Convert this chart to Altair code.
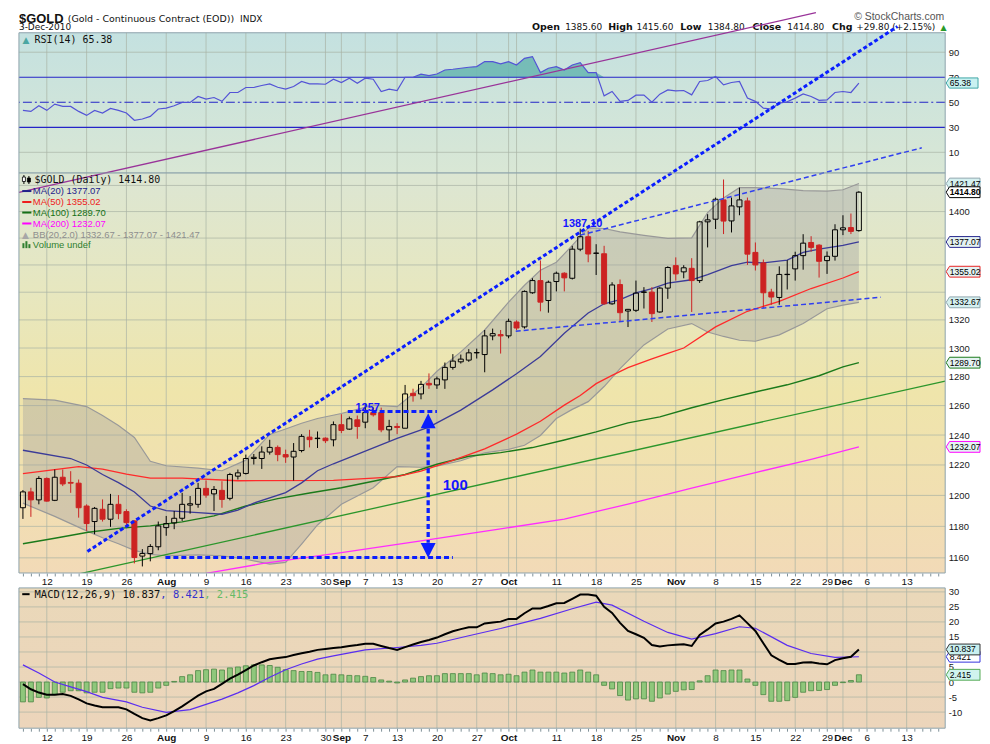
import altair as alt
import pandas as pd

# ---------------- values ----------------
OPEN = [1192.0, 1202.3, 1197.1, 1211.1, 1196.8, 1211.9, 1208.5, 1208.0, 1193.1, 1183.1,
        1191.0, 1184.6, 1194.2, 1189.5, 1183.5, 1161.1, 1162.7, 1167.0, 1179.2, 1182.2,
        1185.2, 1193.7, 1194.2, 1204.6, 1201.0, 1203.3, 1198.1, 1212.6, 1214.4, 1224.3,
        1224.3, 1228.6, 1231.7, 1226.9, 1225.3, 1229.6, 1238.6, 1237.6, 1237.9, 1236.8,
        1247.0, 1244.0, 1250.3, 1248.7, 1255.2, 1255.2, 1243.5, 1245.8, 1244.6, 1268.4,
        1268.0, 1275.3, 1274.2, 1277.7, 1286.4, 1290.3, 1291.5, 1296.6, 1295.4, 1308.6,
        1309.5, 1308.6, 1318.5, 1315.0, 1339.6, 1348.5, 1334.0, 1347.8, 1353.9, 1350.2,
        1371.7, 1381.0, 1368.6, 1368.3, 1331.6, 1345.6, 1326.4, 1326.9, 1339.9, 1340.1,
        1325.7, 1343.0, 1359.5, 1354.9, 1357.5, 1348.5, 1392.2, 1394.2, 1408.9, 1392.9,
        1403.6, 1408.1, 1369.3, 1361.5, 1340.1, 1336.2, 1352.9, 1357.1, 1366.9, 1376.7,
        1374.7, 1363.2, 1366.4, 1386.2, 1387.9, 1385.6]
HIGH = [1203.5, 1205.0, 1212.6, 1211.8, 1217.0, 1217.0, 1215.9, 1210.4, 1194.2, 1192.5,
        1197.4, 1201.0, 1200.2, 1191.0, 1183.9, 1165.5, 1168.7, 1183.1, 1186.7, 1189.9,
        1201.7, 1199.6, 1208.2, 1209.8, 1206.1, 1209.3, 1214.8, 1217.0, 1226.9, 1227.3,
        1232.4, 1236.8, 1233.0, 1230.2, 1234.6, 1240.6, 1243.5, 1242.4, 1238.4, 1249.2,
        1254.1, 1252.5, 1253.2, 1261.5, 1258.6, 1258.6, 1250.3, 1248.0, 1274.2, 1271.6,
        1277.0, 1282.2, 1280.0, 1289.8, 1295.7, 1295.4, 1299.2, 1299.6, 1312.8, 1313.8,
        1312.8, 1320.9, 1319.7, 1341.3, 1350.2, 1363.3, 1348.5, 1355.1, 1354.6, 1374.2,
        1387.1, 1385.4, 1375.4, 1374.2, 1347.3, 1349.3, 1327.9, 1348.5, 1343.7, 1343.7,
        1343.7, 1359.0, 1365.6, 1359.8, 1365.0, 1393.0, 1398.0, 1410.7, 1424.6, 1410.7,
        1418.3, 1410.7, 1376.7, 1364.0, 1342.5, 1359.0, 1363.5, 1369.8, 1382.9, 1381.4,
        1375.4, 1370.0, 1390.4, 1397.2, 1398.5, 1415.6]
LOW = [1184.8, 1186.1, 1194.2, 1195.9, 1196.3, 1206.1, 1201.7, 1185.6, 1177.1, 1175.0,
       1183.1, 1179.7, 1184.6, 1179.2, 1156.5, 1154.6, 1157.8, 1164.8, 1174.0, 1178.2,
       1183.5, 1188.2, 1192.0, 1198.5, 1189.9, 1192.0, 1196.8, 1210.4, 1213.7, 1220.3,
       1217.4, 1226.9, 1222.5, 1221.4, 1209.8, 1228.4, 1231.7, 1231.3, 1234.6, 1232.4,
       1241.3, 1243.5, 1237.5, 1244.6, 1252.5, 1241.9, 1236.2, 1240.6, 1244.6, 1262.7,
       1264.3, 1271.5, 1271.5, 1271.5, 1284.8, 1289.1, 1290.3, 1292.6, 1283.0, 1305.5,
       1296.1, 1306.9, 1312.6, 1313.8, 1338.9, 1326.2, 1325.2, 1340.6, 1340.6, 1349.3,
       1370.2, 1362.0, 1352.6, 1330.9, 1330.9, 1318.5, 1314.9, 1325.7, 1328.2, 1318.5,
       1325.2, 1335.2, 1348.5, 1350.2, 1325.7, 1346.8, 1373.0, 1386.8, 1383.0, 1384.2,
       1397.2, 1360.0, 1355.9, 1328.6, 1330.9, 1330.9, 1342.0, 1348.5, 1356.5, 1369.8,
       1350.7, 1353.4, 1363.2, 1382.2, 1383.0, 1384.8]
CLOSE = [1202.3, 1197.1, 1211.1, 1196.3, 1211.9, 1207.5, 1208.0, 1192.0, 1181.8, 1191.6,
         1184.6, 1194.2, 1188.2, 1182.4, 1160.2, 1162.7, 1167.2, 1180.3, 1181.8, 1185.2,
         1194.2, 1194.6, 1204.6, 1200.2, 1203.9, 1197.4, 1213.7, 1214.8, 1224.3, 1225.1,
         1228.6, 1231.7, 1226.9, 1225.3, 1229.1, 1239.1, 1236.9, 1237.9, 1236.2, 1247.0,
         1243.1, 1251.0, 1245.8, 1255.2, 1253.7, 1243.5, 1245.8, 1245.1, 1268.0, 1266.8,
         1274.6, 1274.2, 1278.4, 1286.4, 1290.8, 1292.2, 1296.6, 1296.8, 1308.6, 1310.2,
         1308.6, 1319.0, 1314.2, 1340.6, 1348.5, 1332.8, 1347.3, 1353.9, 1350.5, 1371.7,
         1381.0, 1368.1, 1368.8, 1331.6, 1345.3, 1325.2, 1327.6, 1339.4, 1340.2, 1324.5,
         1343.0, 1358.1, 1353.4, 1357.9, 1348.5, 1392.2, 1393.7, 1409.4, 1392.8, 1404.3,
         1408.9, 1368.0, 1360.0, 1339.6, 1336.5, 1353.0, 1353.1, 1366.9, 1376.2, 1373.0,
         1362.7, 1366.4, 1386.2, 1387.7, 1385.0, 1414.8]

RSI = [43.5, 42.7, 47.2, 43.5, 48.5, 46.7, 46.7, 42.7, 39.5, 43.5,
       41.4, 45.1, 43.5, 41.4, 35.6, 36.6, 38.7, 44.6, 45.3, 47.2,
       49.9, 49.9, 54.6, 52.5, 53.8, 50.7, 57.8, 57.8, 61.8, 61.8,
       63.4, 64.7, 62.0, 60.5, 62.6, 66.6, 64.7, 64.7, 64.4, 68.4,
       65.8, 69.2, 65.2, 69.2, 68.4, 58.6, 60.5, 59.4, 70.0, 70.0,
       72.4, 71.3, 72.6, 75.8, 76.4, 77.2, 78.0, 78.5, 82.5, 82.5,
       80.7, 82.5, 79.8, 85.1, 86.5, 73.7, 77.2, 78.5, 75.8, 79.8,
       81.7, 73.7, 73.7, 55.1, 58.6, 50.7, 51.5, 55.7, 55.7, 50.1,
       56.5, 59.9, 59.1, 59.4, 55.9, 66.6, 67.4, 70.6, 63.9, 65.8,
       66.6, 53.3, 50.7, 45.3, 44.6, 49.3, 50.4, 53.3, 56.7, 54.6,
       51.5, 51.9, 57.8, 58.6, 57.8, 65.38]

MACD = [-0.7, -2.4, -3.5, -4.2, -4.2, -4.0, -4.6, -5.8, -7.1, -7.8,
        -8.4, -8.4, -8.4, -9.1, -10.6, -12.0, -12.8, -12.0, -11.1, -9.7,
        -8.1, -6.3, -4.5, -3.1, -2.3, -0.6, 1.1, 2.5, 4.0, 5.5,
        6.6, 7.6, 8.0, 8.3, 9.0, 9.6, 10.1, 10.7, 11.0, 11.3,
        11.6, 12.0, 12.3, 12.7, 12.7, 12.0, 11.3, 10.7, 11.6, 12.5,
        13.3, 14.0, 14.8, 15.9, 16.9, 17.6, 18.2, 18.2, 19.5, 19.8,
        20.1, 21.0, 21.0, 22.9, 24.5, 24.5, 25.3, 26.2, 26.3, 27.7,
        29.1, 29.1, 28.7, 25.0, 23.0, 19.7, 17.0, 15.9, 14.7, 12.3,
        11.8, 12.2, 12.4, 12.6, 12.0, 15.7, 17.5, 19.5, 20.1, 21.0,
        22.2, 19.6, 17.0, 12.9, 8.9, 7.4, 6.0, 6.0, 6.5, 6.6,
        6.2, 5.9, 7.3, 7.9, 8.4, 10.837]
HIST = [-6.6, -6.6, -5.1, -5.3, -4.2, -3.4, -2.9, -2.9, -3.6, -3.4,
        -3.4, -2.2, -2.0, -2.0, -3.4, -3.6, -3.4, -2.0, -1.1, 0.2,
        1.8, 2.4, 3.8, 4.1, 4.3, 4.0, 4.7, 5.0, 5.4, 5.7,
        5.7, 5.5, 4.9, 4.1, 3.8, 3.5, 3.5, 3.2, 2.4, 2.6,
        2.4, 2.2, 2.1, 1.9, 1.5, 0.7, 0.3, -0.3, 0.7, 1.3,
        1.8, 2.1, 2.1, 2.8, 2.8, 2.8, 2.8, 2.4, 3.0, 2.8,
        2.4, 2.6, 2.1, 3.3, 4.0, 3.3, 3.3, 3.3, 3.0, 3.3,
        4.0, 3.3, 2.4, -1.1, -2.3, -4.5, -6.0, -5.6, -5.6, -6.4,
        -5.3, -4.0, -3.1, -2.6, -2.5, 0.4, 2.1, 4.0, 3.8, 4.0,
        4.0, 1.0, -1.1, -4.2, -6.4, -6.4, -6.2, -5.1, -3.4, -2.9,
        -2.8, -2.5, -1.1, -0.2, 0.5, 2.415]
SIGNAL_IDX = [0, 2, 4, 6, 8, 10, 13, 15, 18, 21, 25, 27, 29, 31, 33, 35, 37, 39, 41, 43,
              47, 50, 52, 56, 60, 65, 69, 72, 74, 78, 81, 84, 87, 90, 92, 96, 99, 102, 105]
SIGNAL_VAL = [5.7, 3.0, 0.0, -1.6, -3.2, -5.1, -6.6, -8.4, -10.1, -9.2, -5.7, -3.6, -1.2, 1.6,
              4.1, 6.0, 7.6, 8.7, 9.7, 10.7, 11.5, 12.2, 12.9, 15.4, 17.8, 21.2, 24.4, 26.6,
              25.6, 20.2, 16.5, 14.3, 16.1, 18.4, 17.9, 12.2, 9.5, 8.2, 8.421]

MA20_IDX = [0, 6, 8, 10, 12, 14, 16, 18, 22, 25, 27, 29, 33, 35, 37, 39, 43, 47, 51, 55,
            59, 62, 65, 68, 71, 73, 75, 77, 79, 81, 84, 86, 89, 91, 93, 96, 98, 100, 103, 105]
MA20_VAL = [1229.8, 1224.3, 1220.0, 1213.7, 1208.4, 1202.2, 1193.1, 1190.2, 1188.9, 1187.8,
            1190.5, 1195.0, 1201.8, 1208.2, 1216.2, 1220.8, 1229.2, 1237.7, 1245.3, 1256.9,
            1270.8, 1282.0, 1294.0, 1310.5, 1325.0, 1331.6, 1334.6, 1339.5, 1342.7, 1346.6,
            1349.1, 1352.8, 1359.5, 1362.0, 1361.6, 1363.6, 1369.3, 1371.8, 1374.6, 1377.07]
MA50_IDX = [0, 4, 7, 10, 13, 16, 20, 27, 39, 44, 47, 50, 54, 58, 62, 65, 68, 70, 72, 74,
            76, 79, 81, 83, 87, 91, 95, 99, 103, 105]
MA50_VAL = [1214.3, 1216.9, 1218.9, 1217.2, 1213.9, 1211.3, 1211.3, 1209.6, 1209.8, 1211.3,
            1212.3, 1215.9, 1223.0, 1230.7, 1240.6, 1249.3, 1260.3, 1266.9, 1275.1, 1280.8,
            1286.2, 1292.4, 1296.3, 1300.0, 1315.0, 1326.2, 1333.4, 1342.7, 1350.4, 1355.02]
MA100_IDX = [0, 4, 8, 12, 16, 20, 24, 28, 32, 36, 40, 44, 48, 52, 56, 60, 64, 68, 72, 76,
             80, 84, 88, 92, 96, 100, 103, 105]
MA100_VAL = [1168.9, 1172.4, 1176.1, 1178.7, 1180.3, 1182.9, 1186.7, 1193.1, 1197.9, 1201.6,
             1205.0, 1209.3, 1213.7, 1220.5, 1225.8, 1228.2, 1231.6, 1236.7, 1242.1, 1248.2,
             1252.3, 1258.5, 1264.1, 1269.3, 1274.3, 1280.6, 1286.8, 1289.70]
MA200_IDX = [23, 30, 40, 50, 60, 68, 76, 84, 92, 99, 105]
MA200_VAL = [1150.3, 1156.3, 1163.3, 1170.8, 1178.4, 1184.6, 1194.4, 1204.7, 1215.0, 1223.8, 1232.07]
BB_IDX = [0, 4, 8, 10, 12, 14, 16, 18, 22, 25, 28, 31, 33, 35, 37, 40, 44, 47, 50, 52,
          55, 58, 61, 63, 65, 67, 69, 71, 73, 75, 78, 81, 84, 86, 88, 90, 92, 95, 98, 101, 103, 105]
BB_UPPER = [1264.8, 1263.7, 1259.3, 1253.2, 1246.5, 1238.4, 1222.5, 1219.5, 1217.9, 1216.2,
            1223.2, 1240.4, 1244.1, 1248.0, 1251.2, 1254.6, 1260.3, 1259.3, 1272.4, 1283.7,
            1297.3, 1312.8, 1332.8, 1345.1, 1356.1, 1362.0, 1374.5, 1387.6, 1387.2, 1384.6,
            1382.0, 1379.7, 1380.1, 1399.2, 1410.3, 1418.3, 1418.3, 1417.5, 1416.0, 1415.6,
            1416.7, 1421.47]
BB_LOWER = [1195.0, 1186.4, 1177.1, 1172.7, 1168.9, 1164.7, 1162.2, 1161.3, 1161.9, 1161.3,
            1159.1, 1156.1, 1157.1, 1168.7, 1180.9, 1194.2, 1205.0, 1218.9, 1218.5, 1219.2,
            1222.8, 1228.1, 1230.4, 1233.1, 1239.7, 1251.2, 1257.4, 1262.7, 1273.1, 1285.5,
            1302.2, 1313.5, 1317.4, 1311.4, 1308.2, 1305.5, 1304.8, 1309.3, 1317.4, 1328.0,
            1330.7, 1332.67]

# hand-drawn annotations (index, price) pairs
FAST_I, FAST_P = [8.1, 109.85], [1164.0, 1548.0]
PURPLE_I, PURPLE_P = [-0.5, 99.6], [1414.6, 1559.7]
CHUP_I, CHUP_P = [70.0, 112.9], [1382.2, 1449.3]
CHLO_I, CHLO_P = [61.9, 107.75], [1311.9, 1336.4]
GREEN_I, GREEN_P = [-0.5, 115.84], [1141.6, 1276.8]
LVL1160_I, LVL1160_P = [17.9, 54.0], [1160.2, 1160.2]
LVL1257_I, LVL1257_P = [40.8, 52.0], [1256.0, 1256.0]
ARROW_I = [50.9, 50.9]
ARROW_P = [1244.4, 1169.5]
ARROW_UP_P, ARROW_DN_P = 1249.7, 1164.7
NOTE_TEXT = ['1257', '100', '1387.10']
NOTE_I = [43.3, 54.3, 70.3]
NOTE_P = [1258.0, 1207.0, 1390.9]

TICK_IDX = [3, 8, 13, 18, 23, 28, 33, 38, 40, 43, 47, 52, 57, 61, 67, 72, 77, 82, 87, 92, 97, 101, 103, 106, 111]
TICK_LABELS = ['12', '19', '26', 'Aug', '9', '16', '23', '30', 'Sep', '7', '13', '20', '27',
               'Oct', '11', '18', '25', 'Nov', '8', '15', '22', '29', 'Dec', '6', '13']
MONTH_IDX = [18, 40, 61, 82, 103]
GRID_IDX = [3, 8, 13, 18, 23, 28, 33, 38, 40, 43, 47, 52, 57, 61, 62, 67, 72, 77, 82, 87,
            92, 97, 101, 103, 106, 111]
PRICE_TICKS = [1160, 1180, 1200, 1220, 1240, 1260, 1280, 1300, 1320, 1340, 1360, 1380, 1400, 1420]
RSI_TICKS = [10, 30, 50, 70, 90]
MACD_TICKS = [-10, -5, 0, 5, 10, 15, 20, 25, 30]

# ---------------- layout / style ----------------
W = 931
H_RSI, H_PX, H_GAP, H_MACD = 141, 402, 15, 141
XS = alt.Scale(domain=[-0.5, 115.84], nice=False, zero=False, padding=0)
RSI_S = alt.Scale(domain=[-6.58, 105.55], nice=False, zero=False, padding=0)
PX_S = alt.Scale(type='log', domain=[1150.5, 1429.6], nice=False, zero=False, padding=0)
MACD_S = alt.Scale(domain=[-15.36, 31.32], nice=False, zero=False, padding=0)

FONT = 'DejaVu Sans'
MONO = 'DejaVu Sans Mono'
AXF = 'Liberation Sans'
GRID = '#a9b2a4'
RED = '#cc2222'
ONE = pd.DataFrame({'k': [0]})

lab_expr = (f"indexof({TICK_IDX}, datum.value) >= 0 ? "
            f"{TICK_LABELS}[indexof({TICK_IDX}, datum.value)] : ''")
XAX = alt.Axis(values=list(range(0, 116)), labelExpr=lab_expr, tickSize=3, tickColor='#7f9097',
               grid=False, domain=False, title=None, labelFont=AXF, labelFontSize=10,
               labelColor='#111111', labelPadding=1, labelOverlap=False, labelFlush=False,
               labelFontWeight={'condition': {'test': f"indexof({MONTH_IDX}, datum.value) >= 0",
                                              'value': 'bold'}, 'value': 'normal'})


def yax(values, expr):
    return alt.Axis(orient='right', values=values, ticks=False, grid=False, domain=False,
                    title=None, labelFont=AXF, labelFontSize=9.5, labelColor='#1a1a1a',
                    labelPadding=3, labelExpr=expr)


RSI_AX = yax(RSI_TICKS, "toString(datum.value)")
PX_AX = yax(PRICE_TICKS, "indexof([1340, 1360, 1420], datum.value) >= 0 ? '' : toString(datum.value)")
MACD_AX = yax(MACD_TICKS, "toString(datum.value)")


def X(field, ax):
    return alt.X(field, type='quantitative', scale=XS, axis=ax)


def bg(h, stops):
    grad = alt.LinearGradient(gradient='linear',
                              stops=[alt.GradientStop(offset=o, color=c) for o, c in stops],
                              x1=0, x2=0, y1=0, y2=1)
    return alt.Chart(ONE).mark_rect(color=grad).encode(
        x=alt.value(0), x2=alt.value(W), y=alt.value(0), y2=alt.value(h))


def border(h):
    return alt.Chart(ONE).mark_rect(fillOpacity=0, stroke='#8da2ab', strokeWidth=1).encode(
        x=alt.value(0), x2=alt.value(W), y=alt.value(0), y2=alt.value(h))


def vgrid(ax):
    return alt.Chart(pd.DataFrame({'g': GRID_IDX})).mark_rule(
        color=GRID, strokeWidth=1, opacity=0.7).encode(x=X('g', ax))


def hgrid(vals, scale, ax, color=GRID, width=1, dash=None, opacity=0.7):
    kw = dict(color=color, strokeWidth=width, opacity=opacity)
    if dash:
        kw['strokeDash'] = dash
    return alt.Chart(pd.DataFrame({'v': vals})).mark_rule(**kw).encode(
        y=alt.Y('v:Q', scale=scale, axis=ax))


def txt(s, x, y, size=9, color='#111111', weight='normal', font=FONT, align='left'):
    return alt.Chart(ONE).mark_text(text=s, align=align, baseline='alphabetic', font=font,
                                    fontSize=size, fontWeight=weight, color=color).encode(
        x=alt.value(x), y=alt.value(y))


def dash(x1, x2, y, color, width=2):
    return alt.Chart(ONE).mark_rule(color=color, strokeWidth=width).encode(
        x=alt.value(x1), x2=alt.value(x2), y=alt.value(y))


def vtick(x, y1, y2, color, width=1.0):
    return alt.Chart(ONE).mark_rule(color=color, strokeWidth=width).encode(
        x=alt.value(x), y=alt.value(y1), y2=alt.value(y2))


def icon_box(x1, x2, y1, y2, fill, stroke):
    return alt.Chart(ONE).mark_rect(fill=fill, stroke=stroke, strokeWidth=0.8).encode(
        x=alt.value(x1), x2=alt.value(x2), y=alt.value(y1), y2=alt.value(y2))


TAG_PATH = 'M-1,0L-0.8,-0.32L1,-0.32L1,0.32L-0.8,0.32Z'


def tag(v, label, scale, ax, fill, stroke, bold=False, width=34):
    d = alt.Chart(pd.DataFrame({'v': [v]}))
    shp = d.mark_point(shape=TAG_PATH, size=width * width, filled=True, fill=fill, stroke=stroke,
                       strokeWidth=1, opacity=1).encode(
        x=alt.value(W + 1 + width / 2), y=alt.Y('v:Q', scale=scale, axis=ax))
    t = d.mark_text(text=label, align='left', baseline='middle', font=AXF, fontSize=8.6,
                    fontWeight='bold' if bold else 'normal', color='#000000').encode(
        x=alt.value(W + 4.5), y=alt.Y('v:Q', scale=scale, axis=ax))
    return [shp, t]


# ---------------- RSI panel ----------------
rsi_df = pd.DataFrame({'i': range(len(RSI)), 'r': RSI})
rsi_layers = [
    bg(H_RSI, [(0, '#c4e1e0'), (1, '#d9e7d5')]),
    vgrid(None),
    hgrid([10, 90], RSI_S, RSI_AX),
    alt.Chart(rsi_df).transform_calculate(t='max(datum.r, 70)', b='70').mark_area(
        color='#6db8b3', opacity=0.9).encode(
        x=X('i', None), y=alt.Y('t:Q', scale=RSI_S, axis=RSI_AX), y2='b:Q'),
    hgrid([30, 70], RSI_S, RSI_AX, color='#2424c8', width=1.2, opacity=1),
    hgrid([50], RSI_S, RSI_AX, color='#2424c8', width=1.1, dash=[9, 3, 2, 3], opacity=1),
    alt.Chart(rsi_df).mark_line(color='#5353d6', strokeWidth=1.2).encode(
        x=X('i', None), y=alt.Y('r:Q', scale=RSI_S, axis=RSI_AX)),
    *tag(RSI[-1], f"{RSI[-1]:.2f}", RSI_S, RSI_AX, '#c9f1f1', '#3fa6a6', width=32),
    txt('\u25b2', 3.5, 10, size=9, color='#4aa7a2'),
    txt(f"RSI(14) {RSI[-1]:.2f}", 15.7, 10, size=10, font=MONO, color='#111111'),
    # title block above the panels
    txt('$GOLD', 0, -10, size=13, weight='bold', font=AXF, color='#111111'),
    txt('(Gold - Continuous Contract (EOD))', 49, -10.5, size=9.5, color='#111111'),
    txt('INDX', 222.3, -10.5, size=9, color='#111111'),
    txt('3-Dec-2010', 0, -2.4, size=9, color='#111111'),
    txt('\u00a9 StockCharts.com', 930, -12.5, size=10.5, font=AXF, color='#555555', align='right'),
]
chg = CLOSE[-1] - CLOSE[-2]
header = [('Open', 515.7, True), (f"{OPEN[-1]:.2f}", 549, False),
          ('High', 592.3, True), (f"{HIGH[-1]:.2f}", 620.7, False),
          ('Low', 664.7, True), (f"{LOW[-1]:.2f}", 692.3, False),
          ('Close', 737.3, True), (f"{CLOSE[-1]:.2f}", 772.3, False),
          ('Chg', 817.3, True), (f"+{chg:.2f} (+{chg / CLOSE[-2] * 100:.2f}%)", 841.7, False)]
for s, x, b in header:
    rsi_layers.append(txt(s, x, -2.4, size=9.5 if b else 9, weight='bold' if b else 'normal',
                          color='#111111'))
rsi_layers.append(txt('\u25b2', 926.3, -2.6, size=8, color='#2a9a2a'))
rsi_layers.append(border(H_RSI))

# ---------------- price panel ----------------
cdf = pd.DataFrame({'i': range(len(OPEN)), 'o': OPEN, 'h': HIGH, 'l': LOW, 'c': CLOSE})
cb = alt.Chart(cdf).transform_calculate(top='max(datum.o, datum.c)', bot='min(datum.o, datum.c)')
wick_col = alt.condition('datum.c >= datum.o', alt.value('#000000'), alt.value(RED))
bb_df = pd.DataFrame({'i': BB_IDX, 'u': BB_UPPER, 'lo': BB_LOWER})


def pline(idx, vals, color, width=1.2, **mk):
    return alt.Chart(pd.DataFrame({'i': idx, 'p': vals})).mark_line(
        color=color, strokeWidth=width, **mk).encode(
        x=X('i', XAX), y=alt.Y('p:Q', scale=PX_S, axis=PX_AX))


px_layers = [
    bg(H_PX, [(0, '#dce6d3'), (0.3, '#e7e7bf'), (0.55, '#efe5ab'), (0.8, '#f1dfb1'), (1, '#f2dab7')]),
    vgrid(XAX),
    hgrid(PRICE_TICKS, PX_S, PX_AX),
    alt.Chart(bb_df).mark_area(color='#a0a0a0', opacity=0.38).encode(
        x=X('i', XAX), y=alt.Y('u:Q', scale=PX_S, axis=PX_AX), y2='lo:Q'),
    pline(BB_IDX, BB_UPPER, '#999999', 1.2),
    pline(BB_IDX, BB_LOWER, '#999999', 1.2),
    pline(MA200_IDX, MA200_VAL, '#ff2cff', 1.3, clip=True),
    pline(MA100_IDX, MA100_VAL, '#1b7a1b', 1.4),
    pline(GREEN_I, GREEN_P, '#2c962c', 1.3, clip=True),
    pline(MA50_IDX, MA50_VAL, '#ff2a2a', 1.3),
    pline(MA20_IDX, MA20_VAL, '#3b3b98', 1.3),
    cb.mark_rule(strokeWidth=1).encode(x=X('i', XAX), y=alt.Y('h:Q', scale=PX_S, axis=PX_AX),
                                       y2='top:Q', color=wick_col),
    cb.mark_rule(strokeWidth=1).encode(x=X('i', XAX), y=alt.Y('bot:Q', scale=PX_S, axis=PX_AX),
                                       y2='l:Q', color=wick_col),
    cb.transform_filter('datum.c >= datum.o').mark_bar(size=5, filled=False, color='#000000',
                                                        strokeWidth=1).encode(
        x=X('i', XAX), y=alt.Y('o:Q', scale=PX_S, axis=PX_AX), y2='c:Q'),
    cb.transform_filter('datum.c < datum.o').mark_bar(size=5, color=RED, stroke=RED,
                                                       strokeWidth=1).encode(
        x=X('i', XAX), y=alt.Y('o:Q', scale=PX_S, axis=PX_AX), y2='c:Q'),
    pline(CHUP_I, CHUP_P, '#2f3ff0', 1.5, strokeDash=[5, 3]),
    pline(CHLO_I, CHLO_P, '#2f3ff0', 1.5, strokeDash=[5, 3]),
    pline(FAST_I, FAST_P, '#0a1eff', 3, strokeDash=[4, 2.5]),
    pline(PURPLE_I, PURPLE_P, '#993399', 1.3),
    pline(LVL1160_I, LVL1160_P, '#0a1eff', 3, strokeDash=[5, 3]),
    pline(LVL1257_I, LVL1257_P, '#0a1eff', 3, strokeDash=[5, 3]),
    pline(ARROW_I, ARROW_P, '#0a1eff', 3.3, strokeDash=[5, 3]),
    alt.Chart(pd.DataFrame({'i': [ARROW_I[0]], 'p': [ARROW_UP_P]})).mark_point(
        shape='M0,-1L1,1L-1,1Z', size=225, filled=True, color='#0a1eff', opacity=1).encode(
        x=X('i', XAX), y=alt.Y('p:Q', scale=PX_S, axis=PX_AX)),
    alt.Chart(pd.DataFrame({'i': [ARROW_I[0]], 'p': [ARROW_DN_P]})).mark_point(
        shape='M0,1L1,-1L-1,-1Z', size=225, filled=True, color='#0a1eff', opacity=1).encode(
        x=X('i', XAX), y=alt.Y('p:Q', scale=PX_S, axis=PX_AX)),
]
for s, ii, pp, fs in zip(NOTE_TEXT, NOTE_I, NOTE_P, [11, 15, 11]):
    px_layers.append(alt.Chart(pd.DataFrame({'i': [ii], 'p': [pp]})).mark_text(
        text=s, font=AXF, fontSize=fs, fontWeight='bold', color='#1414ff', baseline='middle').encode(
        x=X('i', XAX), y=alt.Y('p:Q', scale=PX_S, axis=PX_AX)))

px_layers += tag(BB_UPPER[-1], f"{BB_UPPER[-1]:.2f}", PX_S, PX_AX, '#d4f0f0', '#8fa6ad')
px_layers += tag(CLOSE[-1], f"{CLOSE[-1]:.2f}", PX_S, PX_AX, '#ffffff', '#000000', bold=True)
px_layers += tag(MA20_VAL[-1], f"{MA20_VAL[-1]:.2f}", PX_S, PX_AX, '#e4f2f2', '#2a2a90')
px_layers += tag(MA50_VAL[-1], f"{MA50_VAL[-1]:.2f}", PX_S, PX_AX, '#e4f2f2', '#e82222')
px_layers += tag(BB_LOWER[-1], f"{BB_LOWER[-1]:.2f}", PX_S, PX_AX, '#d4f0f0', '#8fa6ad')
px_layers += tag(MA100_VAL[-1], f"{MA100_VAL[-1]:.2f}", PX_S, PX_AX, '#e4f2f2', '#1b7a1b')
px_layers += tag(MA200_VAL[-1], f"{MA200_VAL[-1]:.2f}", PX_S, PX_AX, '#e4f2f2', '#ff00ff')

legend = [
    (f"MA(20) {MA20_VAL[-1]:.2f}", '#22228a', 21.4),
    (f"MA(50) {MA50_VAL[-1]:.2f}", '#ee1c1c', 32.4),
    (f"MA(100) {MA100_VAL[-1]:.2f}", '#157015', 43.0),
    (f"MA(200) {MA200_VAL[-1]:.2f}", '#ff00ff', 54.0),
]
# small legend icons (candles, band, volume)
px_layers += [
    vtick(5, 2, 11, '#000000'), icon_box(3.5, 6.5, 4, 8.5, '#ffffff', '#000000'),
    vtick(10, 3, 11, '#000000'), icon_box(8.5, 11.5, 5, 9, '#000000', '#000000'),
    txt('\u25b2', 3, 65.0, size=9, color='#a7a7a7'),
    vtick(4.5, 70.5, 75.5, '#2f7f2f', 2), vtick(7.5, 68.5, 75.5, '#2f7f2f', 2),
    vtick(10.5, 71.5, 75.5, '#2f7f2f', 2),
]
px_layers.append(txt(f"$GOLD (Daily) {CLOSE[-1]:.2f}", 15.7, 10.4, size=10, font=MONO, color='#111111'))
for s, col, yy in legend:
    px_layers.append(dash(3.3, 12.5, yy - 3.3, col))
    px_layers.append(txt(s, 14, yy, size=9.5, font=AXF, color=col))
px_layers.append(txt(f"BB(20,2.0) {BB_LOWER[-1]:.2f} - {MA20_VAL[-1]:.2f} - {BB_UPPER[-1]:.2f}",
                     14, 65.0, size=9.5, font=AXF, color='#8e8e8e'))
px_layers.append(txt('Volume undef', 14, 75.7, size=9.5, font=AXF, color='#2f7f2f'))
px_layers.append(border(H_PX))

# ---------------- MACD panel ----------------
mdf = pd.DataFrame({'i': range(len(MACD)), 'm': MACD, 'h': HIST})
sdf = pd.DataFrame({'i': SIGNAL_IDX, 's': SIGNAL_VAL})
macd_layers = [
    bg(H_MACD, [(0, '#ead8b9'), (1, '#ecd5bb')]),
    vgrid(XAX),
    hgrid(MACD_TICKS, MACD_S, MACD_AX),
    alt.Chart(mdf).transform_calculate(z='0').mark_bar(size=5, color='#8fc77b', stroke='#4a8644',
                                                       strokeWidth=0.8).encode(
        x=X('i', XAX), y=alt.Y('h:Q', scale=MACD_S, axis=MACD_AX), y2='z:Q'),
    alt.Chart(sdf).mark_line(color='#5a2df0', strokeWidth=1.2).encode(
        x=X('i', XAX), y=alt.Y('s:Q', scale=MACD_S, axis=MACD_AX)),
    alt.Chart(mdf).mark_line(color='#000000', strokeWidth=2).encode(
        x=X('i', XAX), y=alt.Y('m:Q', scale=MACD_S, axis=MACD_AX)),
]
macd_layers += tag(SIGNAL_VAL[-1], f"{SIGNAL_VAL[-1]:.3f}", MACD_S, MACD_AX, '#ffffff', '#3333dd')
macd_layers += tag(MACD[-1], f"{MACD[-1]:.3f}", MACD_S, MACD_AX, '#c8f0f0', '#333333')
macd_layers += tag(HIST[-1], f"{HIST[-1]:.3f}", MACD_S, MACD_AX, '#d0f4ee', '#55aa55')
macd_layers += [
    dash(3.3, 10.7, 6.3, '#000000'),
    txt(f"MACD(12,26,9) {MACD[-1]:.3f}", 15.7, 10, size=10.5, font=MONO, color='#111111'),
    txt(f", {SIGNAL_VAL[-1]:.3f}", 142.1, 10, size=10.5, font=MONO, color='#3333cc'),
    txt(f", {HIST[-1]:.3f}", 186.3, 10, size=10.5, font=MONO, color='#66bb66'),
    border(H_MACD),
]

rsi = alt.layer(*rsi_layers).properties(width=W, height=H_RSI)
price = alt.layer(*px_layers).properties(width=W, height=H_PX)
gap = alt.Chart(ONE).mark_point(opacity=0).encode(
    x=alt.value(0), y=alt.value(0)).properties(width=W, height=H_GAP)
macd = alt.layer(*macd_layers).properties(width=W, height=H_MACD)

chart = alt.vconcat(rsi, price, gap, macd, spacing=0, bounds='flush').resolve_scale(
    x='independent', y='independent').properties(
    padding={'left': 8, 'top': 0, 'right': 0, 'bottom': 0}).configure_view(strokeWidth=0)

chart.save('out.html', embed_options={'renderer': 'svg', 'actions': False})
